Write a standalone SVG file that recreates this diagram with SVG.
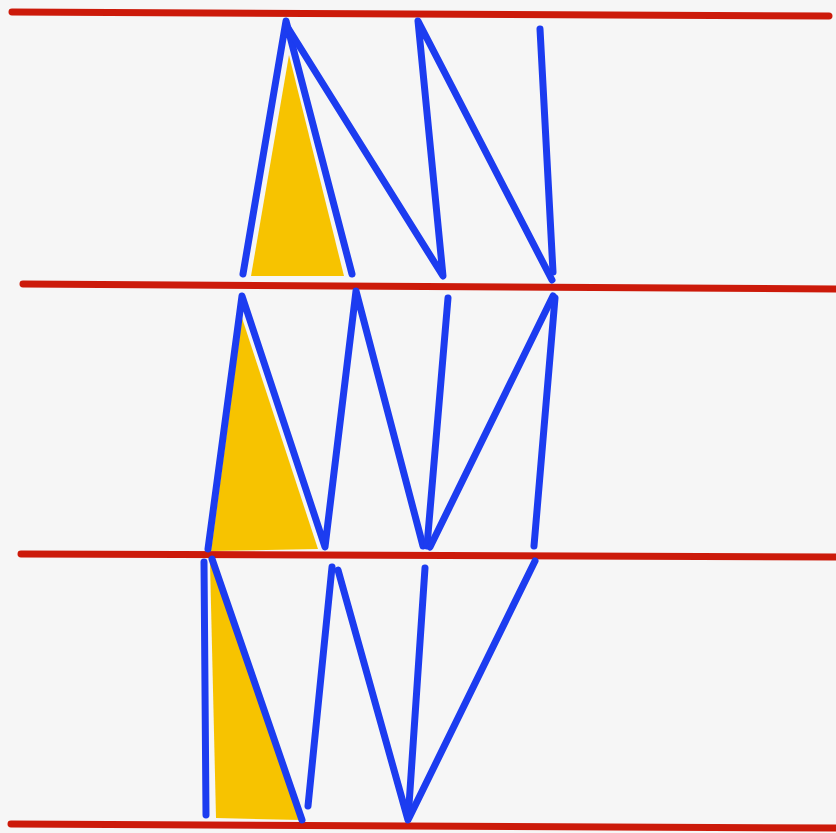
<svg xmlns="http://www.w3.org/2000/svg" width="836" height="833" viewBox="0 0 836 833">
<style>
.red{stroke:#cc1a0a;stroke-width:7;stroke-linecap:round;fill:none}
.blue{stroke:#1c3cf0;stroke-width:7;stroke-linecap:round;stroke-linejoin:round;fill:none}
.fill{fill:#f7c300}
</style>
<rect width="836" height="833" fill="#f6f6f6"/>
<g id="fills">
<polygon class="fill" points="289,55 251,276 344,276"/>
<polygon class="fill" points="242,318 211,551 318,549"/>
<polygon class="fill" points="210,562 216,818 301,820"/>
</g>
<g id="red-lines">
<line class="red" x1="12" y1="12" x2="829" y2="16"/>
<line class="red" x1="23" y1="284" x2="836" y2="289"/>
<line class="red" x1="21" y1="554" x2="836" y2="557"/>
<line class="red" x1="11" y1="824" x2="836" y2="828"/>
</g>
<g id="blue-lines">
<polyline class="blue" points="243,274 286,21 352,274"/>
<polyline class="blue" points="288,28 443,276 418,21 552,280"/>
<line class="blue" x1="540" y1="29" x2="553" y2="272"/>
<polyline class="blue" points="208,549 242,296 325,547 356,291 423,546"/>
<line class="blue" x1="448" y1="298" x2="427" y2="546"/>
<polyline class="blue" points="430,547 553,296"/>
<line class="blue" x1="555" y1="298" x2="534" y2="546"/>
<line class="blue" x1="204" y1="562" x2="206" y2="815"/>
<line class="blue" x1="212" y1="559" x2="302" y2="820"/>
<line class="blue" x1="308" y1="806" x2="332" y2="567"/>
<polyline class="blue" points="338,570 408,820 425,568"/>
<line class="blue" x1="409" y1="818" x2="535" y2="561"/>
</g>
</svg>
